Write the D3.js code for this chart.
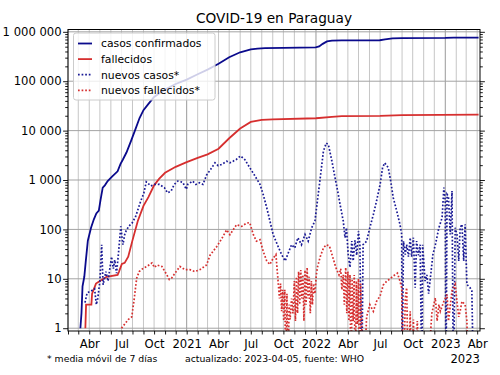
<!DOCTYPE html>
<html>
<head>
<meta charset="utf-8">
<script src="https://cdn.jsdelivr.net/npm/d3@7"></script>
<style>
body { margin: 0; background: #fff; }
text { font-family: "DejaVu Sans", sans-serif; fill: #000; }
</style>
</head>
<body>
<div id="chart" style="width:500px;height:375px"></div>
<script>
// values (date, value); 0 = no reports that day
const casosConfirmados = [
    ["2020-03-07",1],["2020-03-10",2],["2020-03-13",7],["2020-03-18",11],["2020-03-22",22],["2020-03-28",59],
    ["2020-04-06",108],["2020-04-14",160],["2020-04-21",210],["2020-04-28",240],["2020-05-03",400],["2020-05-09",700],
    ["2020-05-15",780],["2020-05-23",950],["2020-06-05",1180],["2020-06-20",1500],["2020-06-28",2100],["2020-07-05",2600],
    ["2020-07-15",3600],["2020-07-28",6200],["2020-08-10",11000],["2020-08-21",18000],["2020-09-01",26000],["2020-09-14",34000],
    ["2020-10-01",48000],["2020-11-01",68000],["2020-12-01",88000],["2021-01-01",108000],["2021-02-01",138000],["2021-03-01",172000],
    ["2021-04-01",225000],["2021-05-01",305000],["2021-06-01",385000],["2021-07-01",440000],["2021-07-20",458000],["2021-08-10",468000],
    ["2021-10-01",475000],["2021-12-31",482000],["2022-01-10",505000],["2022-01-20",570000],["2022-02-01",640000],["2022-02-15",662000],
    ["2022-03-15",668000],["2022-06-30",675000],["2022-07-15",705000],["2022-08-05",740000],["2022-09-01",748000],["2023-01-01",752000],
    ["2023-01-25",760000],["2023-04-05",763000]
];

const fallecidos = [
    ["2020-03-21",1],["2020-03-23",3],["2020-04-07",3],["2020-04-09",5],["2020-04-20",8],["2020-05-01",9],["2020-05-20",11],
    ["2020-06-20",12],["2020-06-24",14],["2020-07-02",20],["2020-07-10",21],["2020-07-20",28],["2020-08-01",60],["2020-08-16",148],
    ["2020-09-01",300],["2020-09-15",450],["2020-10-01",780],["2020-10-15",1050],["2020-11-01",1400],["2020-12-01",1850],
    ["2021-01-01",2300],["2021-02-01",2800],["2021-03-01",3300],["2021-04-01",4300],["2021-05-01",7000],["2021-06-01",11000],
    ["2021-07-01",15000],["2021-08-01",16500],["2021-09-01",16900],["2022-01-01",17800],["2022-02-15",19000],["2022-03-15",19700],
    ["2022-07-01",19900],["2022-09-01",20600],["2023-04-05",21000]
];

const nuevosCasos = [
    ["2020-03-20",3.3],["2020-03-26",5.2],["2020-04-07",5.7],["2020-04-16",6.3],["2020-04-21",3],["2020-04-25",4],["2020-05-01",8.9],
    ["2020-05-06",49],["2020-05-10",7.6],["2020-05-18",14],["2020-05-24",9],["2020-06-03",28],["2020-06-08",16],["2020-06-12",24],
    ["2020-06-17",13],["2020-06-22",30],["2020-06-27",78],["2020-06-29",115],["2020-07-05",49],["2020-07-11",85],["2020-07-21",115],
    ["2020-07-31",135],["2020-08-10",183],["2020-08-24",370],["2020-09-02",540],["2020-09-09",920],["2020-09-22",760],["2020-10-02",815],
    ["2020-10-16",815],["2020-10-30",700],["2020-11-08",550],["2020-11-18",600],["2020-11-27",815],["2020-12-07",950],["2020-12-21",900],
    ["2020-12-31",650],["2021-01-04",815],["2021-01-18",950],["2021-01-27",815],["2021-02-06",880],["2021-02-16",815],["2021-02-26",1250],
    ["2021-03-13",1780],["2021-03-22",2230],["2021-03-31",1950],["2021-04-10",2070],["2021-04-24",2400],["2021-05-03",2230],
    ["2021-05-12",2400],["2021-05-21",2600],["2021-06-02",3070],["2021-06-14",2600],["2021-06-28",1780],["2021-07-13",1200],
    ["2021-07-27",815],["2021-08-05",510],["2021-08-15",275],["2021-08-24",148],["2021-09-02",79],["2021-09-14",49],["2021-09-26",31],
    ["2021-10-06",23],["2021-10-13",31],["2021-10-24",49],["2021-11-02",42],["2021-11-11",68],["2021-11-21",49],["2021-12-01",79],
    ["2021-12-10",58],["2021-12-20",108],["2021-12-29",148],["2022-01-05",375],["2022-01-13",1100],["2022-01-22",3850],["2022-01-30",5600],
    ["2022-02-05",5200],["2022-02-15",2400],["2022-02-24",1100],["2022-03-05",510],["2022-03-10",320],["2022-03-19",148],["2022-03-24",68],
    ["2022-03-28",108],["2022-04-02",31],["2022-04-07",17],["2022-04-12",58],["2022-04-16",23],["2022-04-21",60],["2022-04-26",30],
    ["2022-05-01",92],["2022-05-05",49],["2022-05-10",0],["2022-05-14",49],["2022-05-24",58],["2022-06-02",108],["2022-06-12",200],
    ["2022-06-21",375],["2022-07-01",815],["2022-07-08",1780],["2022-07-14",2230],["2022-07-24",1780],["2022-07-31",950],["2022-08-07",440],
    ["2022-08-17",235],["2022-08-26",127],["2022-08-31",79],["2022-09-01",0],["2022-09-05",58],["2022-09-10",31],["2022-09-14",49],
    ["2022-09-19",28],["2022-09-24",68],["2022-09-28",28],["2022-10-03",68],["2022-10-08",6.6],["2022-10-12",58],["2022-10-17",30],
    ["2022-10-22",49],["2022-10-27",0],["2022-10-29",49],["2022-11-05",9],["2022-11-10",12],["2022-11-15",5],["2022-11-19",9],
    ["2022-11-27",31],["2022-12-04",49],["2022-12-14",108],["2022-12-23",172],["2022-12-28",700],["2023-01-01",375],["2023-01-03",0],
    ["2023-01-06",510],["2023-01-10",460],["2023-01-15",79],["2023-01-20",600],["2023-01-24",0],["2023-01-29",108],["2023-02-03",79],
    ["2023-02-08",23],["2023-02-12",108],["2023-02-17",127],["2023-02-22",23],["2023-02-26",127],["2023-03-03",7.7],["2023-03-12",6.6],
    ["2023-03-17",5.7],["2023-03-22",0]
];

const nuevosFallecidos = [
    ["2020-07-01",1],["2020-07-20",1.5],["2020-07-30",1.7],["2020-08-05",3.5],["2020-08-13",10.4],["2020-08-20",14],["2020-09-01",16.5],
    ["2020-09-11",17.8],["2020-09-25",21],["2020-10-02",17],["2020-10-09",19],["2020-10-23",17.8],["2020-11-06",12],["2020-11-13",9.7],
    ["2020-11-20",10.4],["2020-11-29",13],["2020-12-13",17.8],["2020-12-27",15.3],["2021-01-10",15.3],["2021-01-24",14],["2021-02-07",15.3],
    ["2021-02-26",19],["2021-03-08",30],["2021-03-27",45],["2021-04-10",65],["2021-04-24",98],["2021-05-03",78],["2021-05-22",125],
    ["2021-06-05",115],["2021-06-19",134],["2021-06-28",137],["2021-07-08",79],["2021-07-17",58],["2021-07-27",62],["2021-08-05",36],
    ["2021-08-15",23],["2021-08-24",19.5],["2021-09-02",26],["2021-09-10",31],["2021-09-16",9],["2021-09-20",4],["2021-09-23",8],
    ["2021-09-26",2.2],["2021-09-29",6],["2021-10-02",1.4],["2021-10-05",6],["2021-10-08",0],["2021-10-11",5],["2021-10-14",0],
    ["2021-10-17",3],["2021-10-20",1.5],["2021-10-24",4],["2021-10-28",2],["2021-11-01",9],["2021-11-04",1.4],["2021-11-07",11],
    ["2021-11-10",2],["2021-11-13",14],["2021-11-16",3],["2021-11-19",15],["2021-11-22",4],["2021-11-25",12],["2021-11-28",1.4],
    ["2021-12-01",15],["2021-12-04",3],["2021-12-07",17],["2021-12-10",4],["2021-12-13",11],["2021-12-16",2],["2021-12-19",9],
    ["2021-12-22",3],["2021-12-25",8],["2021-12-29",5],["2022-01-02",12],["2022-01-05",17],["2022-01-13",28],["2022-01-22",42],
    ["2022-01-30",49],["2022-02-08",46],["2022-02-17",28],["2022-02-26",17],["2022-03-07",12],["2022-03-12",16],["2022-03-15",6],
    ["2022-03-19",12],["2022-03-22",3],["2022-03-26",17],["2022-03-29",2],["2022-04-01",14],["2022-04-04",1.4],["2022-04-07",12],
    ["2022-04-10",0],["2022-04-13",10],["2022-04-16",1.4],["2022-04-19",12],["2022-04-22",0],["2022-04-25",9],["2022-04-28",1.2],
    ["2022-05-01",10],["2022-05-04",0],["2022-05-07",8],["2022-05-10",1.4],["2022-05-14",0],["2022-05-24",1.7],["2022-06-02",3],
    ["2022-06-12",2.2],["2022-06-21",3.5],["2022-07-01",4.5],["2022-07-10",7.5],["2022-07-20",9],["2022-07-29",10],["2022-08-07",11.4],
    ["2022-08-19",13],["2022-08-26",9],["2022-08-31",6.6],["2022-09-05",0],["2022-09-10",4],["2022-09-14",6.6],["2022-09-19",0],
    ["2022-09-24",2.2],["2022-09-28",0],["2022-10-03",1.5],["2022-10-08",0],["2022-10-14",1.4],["2022-10-22",0],["2022-11-10",0],
    ["2022-11-24",2],["2022-12-04",4.1],["2022-12-09",1.4],["2022-12-14",3],["2022-12-18",2.2],["2022-12-28",3.5],["2023-01-06",4.8],
    ["2023-01-10",1.4],["2023-01-20",5.7],["2023-01-29",7.7],["2023-02-03",3.5],["2023-02-08",1.7],["2023-02-12",2.2],["2023-02-17",3.5],
    ["2023-02-26",3],["2023-03-03",1.4],["2023-03-08",0]
];

const seriesNames = ["casos confirmados", "fallecidos", "nuevos casos*", "nuevos fallecidos*"];
const monthLabels = {3: "Abr", 6: "Jul", 9: "Oct"};
const yTicks = [1, 10, 100, 1000, 10000, 100000, 1000000];
const titleText = "COVID-19 en Paraguay";
const noteLeft = "* media móvil de 7 días";
const noteRight = "actualizado: 2023-04-05, fuente: WHO";
const offsetLabel = "2023";

const width = 500;
const height = 375;
const margin = {top: 29.5, left: 68, right: 20, bottom: 44};
const plotBottom = height - margin.bottom;
const plotRight = width - margin.right;

const parse = d3.utcParse("%Y-%m-%d");
const toPoints = arr => arr.map(d => ({date: parse(d[0]), value: d[1]}));

const svg = d3.select("#chart")
    .append("svg")
    .attr("width", width)
    .attr("height", height);

const xScale = d3.scaleUtc()
    .domain([parse("2020-02-01"), parse("2023-04-09")])
    .range([margin.left, plotRight]);

const yScale = d3.scaleLog()
    .domain([0.878, 1.114e6])
    .range([plotBottom, margin.top]);

const months = d3.utcMonth.range(parse("2020-02-01"), parse("2023-04-09"));

// grid
svg.append("g")
    .selectAll("line")
    .data(months)
    .enter()
    .append("line")
        .attr("x1", d => xScale(d)).attr("x2", d => xScale(d))
        .attr("y1", margin.top).attr("y2", plotBottom)
        .attr("stroke", d => d.getUTCMonth() === 0 ? "#9a9a9a" : "#c6c6c6")
        .attr("stroke-width", 1);

svg.append("g")
    .selectAll("line")
    .data(yTicks)
    .enter()
    .append("line")
        .attr("x1", margin.left).attr("x2", plotRight)
        .attr("y1", d => yScale(d)).attr("y2", d => yScale(d))
        .attr("stroke", "#a3a3a3")
        .attr("stroke-width", 1);

// lines
svg.append("clipPath").attr("id", "plotclip")
    .append("rect")
        .attr("x", margin.left).attr("y", margin.top)
        .attr("width", plotRight - margin.left)
        .attr("height", plotBottom - margin.top);

const line = d3.line()
    .x(d => xScale(d.date))
    .y(d => yScale(Math.max(d.value, 0.05)));

const series = [
    {data: casosConfirmados, color: "#0a0a8c", width: 1.8, dash: null},
    {data: fallecidos, color: "#d62f2f", width: 1.8, dash: null},
    {data: nuevosCasos, color: "#1a1a95", width: 1.7, dash: "1.7,1.9"},
    {data: nuevosFallecidos, color: "#d62f2f", width: 1.7, dash: "1.7,1.9"}
];

const lines = svg.append("g").attr("clip-path", "url(#plotclip)");
series.forEach(s => {
    lines.append("path")
        .datum(toPoints(s.data))
        .attr("d", line)
        .attr("fill", "none")
        .attr("stroke", s.color)
        .attr("stroke-width", s.width)
        .attr("stroke-dasharray", s.dash);
});

// axes
const fmt = d => d3.format(",")(d).replace(/,/g, " ");
const minorY = [];
for (let dec = 1; dec < 1e6; dec *= 10) {
    for (let k = 2; k < 10; k++) minorY.push(k * dec);
}

const yAxis = svg.append("g")
    .attr("class", "axis")
    .attr("transform", `translate(${margin.left},0)`)
    .call(d3.axisLeft(yScale).tickValues(yTicks).tickSize(4.9).tickPadding(1.5).tickFormat(fmt));
svg.append("g")
    .attr("transform", `translate(${margin.left},0)`)
    .call(d3.axisLeft(yScale).tickValues(minorY).tickSize(2.8).tickFormat(""));
svg.append("g")
    .attr("transform", `translate(${plotRight},0)`)
    .call(d3.axisRight(yScale).tickValues(yTicks).tickSize(4.9).tickFormat(""));
svg.append("g")
    .attr("transform", `translate(${plotRight},0)`)
    .call(d3.axisRight(yScale).tickValues(minorY).tickSize(2.8).tickFormat(""));

const xAxis = svg.append("g")
    .attr("class", "axis")
    .attr("transform", `translate(0,${plotBottom})`)
    .call(d3.axisBottom(xScale)
        .tickValues(months)
        .tickSize(3.5)
        .tickPadding(5)
        .tickFormat(d => {
            const m = d.getUTCMonth();
            if (m === 0) return String(d.getUTCFullYear());
            return monthLabels[m] || "";
        }));

svg.selectAll(".domain").remove();
svg.selectAll(".tick line").attr("stroke", "#000").attr("stroke-width", 0.9);
svg.selectAll(".axis text")
    .attr("font-size", "11.6px")
    .attr("font-family", "DejaVu Sans")
    .attr("fill", "#000");

// frame
svg.append("rect")
    .attr("x", margin.left).attr("y", margin.top)
    .attr("width", plotRight - margin.left)
    .attr("height", plotBottom - margin.top)
    .attr("fill", "none")
    .attr("stroke", "#000")
    .attr("stroke-width", 1);

// legend
const legend = svg.append("g").attr("transform", "translate(73.5,33)");
legend.append("rect")
    .attr("width", 141.5).attr("height", 67)
    .attr("rx", 2.5)
    .attr("fill", "#fff").attr("fill-opacity", 0.8)
    .attr("stroke", "#cccccc").attr("stroke-width", 1);

seriesNames.forEach((name, i) => {
    const cy = 10.5 + i * 15.6;
    legend.append("line")
        .attr("x1", 4.5).attr("x2", 18.5)
        .attr("y1", cy).attr("y2", cy)
        .attr("stroke", series[i].color)
        .attr("stroke-width", series[i].width)
        .attr("stroke-dasharray", series[i].dash);
    legend.append("text")
        .attr("x", 27.5).attr("y", cy + 3.9)
        .attr("font-size", "10.8px")
        .text(name);
});

// texts
svg.append("text")
    .attr("x", (margin.left + plotRight) / 2)
    .attr("y", 22.5)
    .attr("text-anchor", "middle")
    .attr("font-size", "13.7px")
    .text(titleText);

svg.append("text")
    .attr("x", 47).attr("y", 361.5)
    .attr("font-size", "9.3px")
    .text(noteLeft);

svg.append("text")
    .attr("x", 185).attr("y", 361.5)
    .attr("font-size", "9.3px")
    .text(noteRight);

svg.append("text")
    .attr("x", plotRight).attr("y", 363)
    .attr("text-anchor", "end")
    .attr("font-size", "11.6px")
    .text(offsetLabel);
</script>
</body>
</html>
